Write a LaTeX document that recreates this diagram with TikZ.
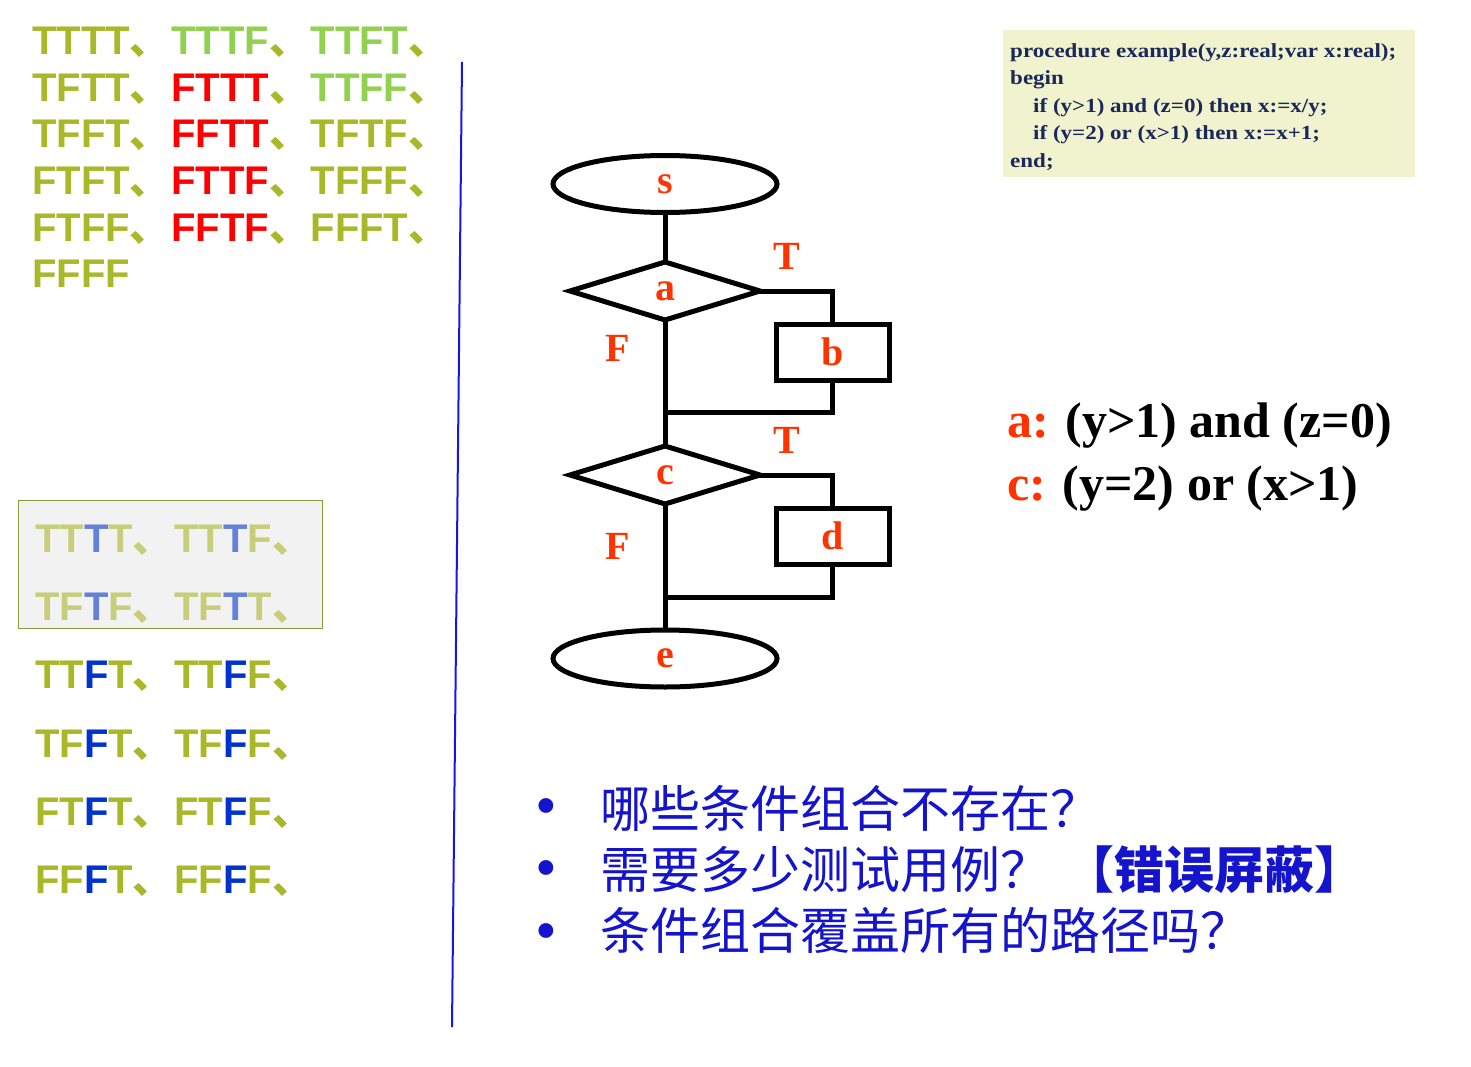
\documentclass[tikz,border=0pt]{standalone}
\usepackage{fontspec}
\setmainfont{Liberation Serif}
\newfontfamily\sansb{Liberation Sans}
\newfontfamily\cjk{Noto Sans CJK SC}
\newfontfamily\codefont{Liberation Serif}[FakeStretch=1.15]
\usetikzlibrary{shapes.geometric}
\definecolor{ol}{RGB}{168,184,40}
\definecolor{lg}{RGB}{146,208,80}
\definecolor{rd}{RGB}{255,0,0}
\definecolor{olf}{RGB}{198,206,122}
\definecolor{blf}{RGB}{100,130,215}
\definecolor{bl}{RGB}{0,51,204}
\definecolor{orr}{RGB}{255,51,0}
\definecolor{navy}{RGB}{26,40,90}
\definecolor{codebg}{RGB}{240,243,205}
\definecolor{qblue}{RGB}{20,20,205}
\definecolor{boxbd}{RGB}{140,155,60}
\definecolor{boxbg}{RGB}{242,242,242}
\definecolor{vline}{RGB}{20,20,235}
\newcommand{\dn}[1]{{\cjk\color{#1}、}\kern1.5pt}
\begin{document}
\begin{tikzpicture}[x=1pt,y=-1pt,
  combo/.style={anchor=base west,inner sep=0,font=\sansb\bfseries\fontsize{40}{48}\selectfont},
  code/.style={anchor=base west,inner sep=0,text=navy,font=\codefont\bfseries\fontsize{20}{24}\selectfont},
  flow/.style={draw=black,line width=5pt,inner sep=0,outer sep=0,text=orr,font=\bfseries\fontsize{40}{48}\selectfont},
  conn/.style={draw=black,line width=5pt},
  lbl/.style={text=orr,inner sep=0,font=\bfseries\fontsize{40}{48}\selectfont},
  cond/.style={anchor=base west,inner sep=0,font=\bfseries\fontsize{50}{58}\selectfont},
  q/.style={anchor=base west,inner sep=0,text=qblue,font=\cjk\fontsize{50}{60}\selectfont},
  bul/.style={anchor=base,inner sep=0,text=qblue,font=\fontsize{62}{66}\selectfont},
  term/.style={flow,ellipse,minimum width=224pt,minimum height=57pt},
  dec/.style={flow,diamond,minimum width=190pt,minimum height=58pt},
  proc/.style={flow,rectangle,minimum width=113pt,minimum height=56pt}]
\useasboundingbox (0,0) rectangle (1471,1067);

% top-left combinations
\node[combo] (r1) at (32,55) {\color{ol}TTTT\dn{ol}\color{lg}TTTF\dn{ol}\color{lg}TTFT\dn{ol}};
\node[combo] (r2) at (32,101.5) {\color{ol}TFTT\dn{ol}\color{rd}FTTT\dn{ol}\color{lg}TTFF\dn{ol}};
\node[combo] (r3) at (32,148) {\color{ol}TFFT\dn{ol}\color{rd}FFTT\dn{ol}\color{ol}TFTF\dn{ol}};
\node[combo] (r4) at (32,194.5) {\color{ol}FTFT\dn{ol}\color{rd}FTTF\dn{ol}\color{ol}TFFF\dn{ol}};
\node[combo] (r5) at (32,241) {\color{ol}FTFF\dn{ol}\color{rd}FFTF\dn{ol}\color{ol}FFFT\dn{ol}};
\node[combo] (r6) at (32,287.5) {\color{ol}FFFF};

% lower-left
\node[draw=boxbd,fill=boxbg,line width=1pt,minimum width=304pt,minimum height=128pt,anchor=north west,inner sep=0] (gb) at (18,500) {};
\node[combo] (g1) at (35,552) {\color{olf}TT{\color{blf}T}T\dn{olf}TT{\color{blf}T}F\dn{olf}};
\node[combo] (g2) at (35,620) {\color{olf}TF{\color{blf}T}F\dn{olf}TF{\color{blf}T}T\dn{olf}};
\node[combo] (g3) at (35,688) {\color{ol}TT{\color{bl}F}T\dn{ol}TT{\color{bl}F}F\dn{ol}};
\node[combo] (g4) at (35,757) {\color{ol}TF{\color{bl}F}T\dn{ol}TF{\color{bl}F}F\dn{ol}};
\node[combo] (g5) at (35,825) {\color{ol}FT{\color{bl}F}T\dn{ol}FT{\color{bl}F}F\dn{ol}};
\node[combo] (g6) at (35,893) {\color{ol}FF{\color{bl}F}T\dn{ol}FF{\color{bl}F}F\dn{ol}};

% divider
\coordinate (lt) at (462,62);
\coordinate (lb) at (452,1027);
\draw[vline,line width=2pt] (lt) -- (lb);

% code box
\node[fill=codebg,minimum width=412pt,minimum height=147pt,anchor=north west,inner sep=0] (cb) at (1003,30) {};
\node[code] (k1) at (1010,57.5) {procedure example(y,z:real;var x:real);};
\node[code] (k2) at (1010,85) {begin};
\node[code] (k3) at (1033,112.5) {if (y>1) and (z=0) then x:=x/y;};
\node[code] (k4) at (1033,140) {if (y=2) or (x>1) then x:=x+1;};
\node[code] (k5) at (1010,167.5) {end;};

% flowchart
\node[term] (s) at (665,184) {s};
\node[dec] (a) at (665,291) {a};
\node[proc] (b) at (832.5,352) {b};
\node[dec] (c) at (665,475) {c};
\node[proc] (d) at (832.5,536) {d};
\node[term] (e) at (665,658.5) {e};
\coordinate (j1) at (665,412);
\coordinate (j2) at (665,597);
\draw[conn] (s) -- (a);
\draw[conn] (a.east) -| (b.north);
\draw[conn] (b.south) |- (j1);
\draw[conn] (a.south) -- (c.north);
\draw[conn] (c.east) -| (d.north);
\draw[conn] (d.south) |- (j2);
\draw[conn] (c.south) -- (e.north);
\node[lbl] (ta) at (787,256) {T};
\node[lbl] (fa) at (618,348) {F};
\node[lbl] (tc) at (787,440) {T};
\node[lbl] (fc) at (618,546) {F};

% conditions
\node[cond] (ca) at (1007,437) {{\color{orr}a:} (y>1) and (z=0)};
\node[cond] (cc) at (1007,500) {{\color{orr}c:} (y=2) or (x>1)};

% questions
\node[bul] (b1) at (546,826) {\textbullet};
\node[bul] (b2) at (546,888) {\textbullet};
\node[bul] (b3) at (546,951) {\textbullet};
\node[q] (q1) at (600,827) {哪些条件组合不存在？};
\node[q] (q2) at (600,888) {需要多少测试用例？\kern14pt{\bfseries 【错误屏蔽】}};
\node[q] (q3) at (600,949) {条件组合覆盖所有的路径吗？};
\end{tikzpicture}
\end{document}
